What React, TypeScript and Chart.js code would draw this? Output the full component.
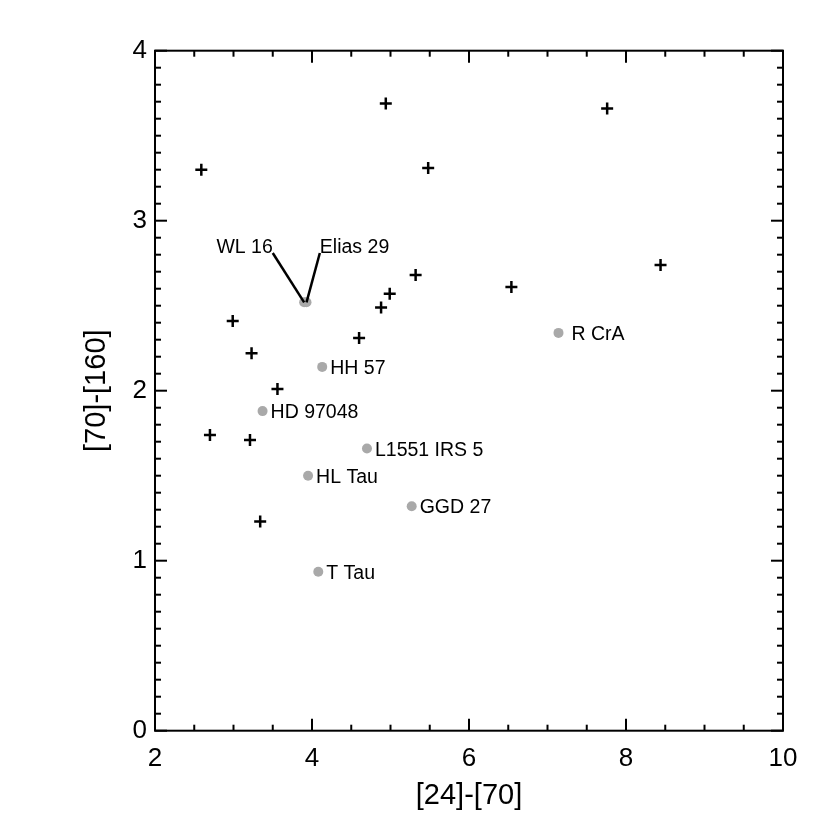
import React, { useEffect, useRef } from 'react';
import { Chart, registerables } from 'chart.js';

Chart.register(...registerables);

// Black crosses (unlabelled sources)
const crossX = [2.59, 4.94, 5.48, 7.76, 8.44, 5.32, 6.54, 4.99, 4.88, 4.60, 2.99, 3.23, 3.56, 2.70, 3.21, 3.34];
const crossY = [3.30, 3.69, 3.31, 3.66, 2.74, 2.68, 2.61, 2.57, 2.49, 2.31, 2.41, 2.22, 2.01, 1.74, 1.71, 1.23];

// Grey labelled sources
const srcNames = ['WL 16', 'Elias 29', 'HH 57', 'HD 97048', 'L1551 IRS 5', 'HL Tau', 'GGD 27', 'T Tau', 'R CrA'];
const srcX = [3.90, 3.93, 4.13, 3.37, 4.70, 3.95, 5.27, 4.08, 7.14];
const srcY = [2.52, 2.52, 2.14, 1.88, 1.66, 1.50, 1.32, 0.935, 2.34];

// Leader-line label anchors (data coordinates) for the two blended sources
const leaderNames = ['WL 16', 'Elias 29'];
const leaderX = [3.50, 4.10];
const leaderY = [2.81, 2.81];

// Axis tick labels
const xTicks = [2, 4, 6, 8, 10];
const yTicks = [0, 1, 2, 3, 4];

const FONT = "'Liberation Sans', Arial, Helvetica, sans-serif";
const LABEL_SIZE = 19.5;

const framePlugin = {
  id: 'frameTicks',
  afterDraw(chart: any) {
    const { ctx, chartArea: a, scales } = chart;
    const xs = scales.x;
    const ys = scales.y;
    ctx.save();
    ctx.strokeStyle = '#000';
    ctx.lineWidth = 2;
    ctx.lineCap = 'butt';
    ctx.strokeRect(a.left, a.top, a.right - a.left, a.bottom - a.top);
    const line = (x1: number, y1: number, x2: number, y2: number) => {
      ctx.beginPath();
      ctx.moveTo(x1, y1);
      ctx.lineTo(x2, y2);
      ctx.stroke();
    };
    // x ticks (major every 2, minor every 0.5), top and bottom, inward
    for (let i = 0; i <= 16; i++) {
      const v = 2 + i * 0.5;
      const px = xs.getPixelForValue(v);
      const len = i % 4 === 0 ? 12 : 6;
      line(px, a.bottom, px, a.bottom - len);
      line(px, a.top, px, a.top + len);
    }
    // y ticks (major every 1, minor every 0.1), left and right, inward
    for (let i = 0; i <= 40; i++) {
      const v = i * 0.1;
      const py = ys.getPixelForValue(v);
      const len = i % 10 === 0 ? 12 : 6;
      line(a.left, py, a.left + len, py);
      line(a.right, py, a.right - len, py);
    }

    // Leader lines and labels for WL 16 / Elias 29
    ctx.lineWidth = 2.5;
    ctx.fillStyle = '#000';
    ctx.font = `${LABEL_SIZE}px ${FONT}`;
    ctx.textBaseline = 'alphabetic';
    for (let i = 0; i < leaderNames.length; i++) {
      const si = srcNames.indexOf(leaderNames[i]);
      const ex = xs.getPixelForValue(leaderX[i]);
      const ey = ys.getPixelForValue(leaderY[i]);
      const sx = xs.getPixelForValue(srcX[si]);
      const sy = ys.getPixelForValue(srcY[si]);
      line(ex, ey, sx, sy);
      ctx.textAlign = i === 0 ? 'right' : 'left';
      ctx.fillText(leaderNames[i], ex, ey);
    }

    // Labels for other sources
    ctx.textAlign = 'left';
    for (let i = 0; i < srcNames.length; i++) {
      if (leaderNames.includes(srcNames[i])) continue;
      const px = xs.getPixelForValue(srcX[i]);
      const py = ys.getPixelForValue(srcY[i]);
      const off = srcNames[i] === 'R CrA' ? 13 : 8;
      ctx.fillText(srcNames[i], px + off, py + 7);
    }
    ctx.restore();
  },
};

export default function App() {
  const ref = useRef<HTMLCanvasElement | null>(null);

  useEffect(() => {
    if (!ref.current) return;
    const chart = new Chart(ref.current, {
      type: 'scatter',
      data: {
        datasets: [
          {
            label: 'sources',
            data: srcX.map((x, i) => ({ x, y: srcY[i] })),
            pointStyle: 'circle',
            pointRadius: 5,
            backgroundColor: '#a9a9a9',
            borderColor: '#a9a9a9',
            borderWidth: 0,
          },
          {
            label: 'others',
            data: crossX.map((x, i) => ({ x, y: crossY[i] })),
            pointStyle: 'cross',
            pointRadius: 6,
            borderColor: '#000',
            borderWidth: 2.5,
          },
        ],
      },
      options: {
        responsive: false,
        animation: false,
        events: [],
        layout: { padding: { top: 50.7, right: 47, left: 0, bottom: 0 } },
        plugins: {
          legend: { display: false },
          tooltip: { enabled: false },
        },
        scales: {
          x: {
            type: 'linear',
            min: 2,
            max: 10,
            afterBuildTicks: (s: any) => {
              s.ticks = xTicks.map((v) => ({ value: v }));
            },
            afterFit: (s: any) => {
              s.height = 99.3;
            },
            grid: { display: false, drawTicks: false },
            border: { display: false },
            ticks: {
              color: '#000',
              font: { family: FONT, size: 26 },
              padding: 13,
              maxRotation: 0,
              autoSkip: false,
            },
            title: {
              display: true,
              text: '[24]-[70]',
              color: '#000',
              font: { family: FONT, size: 29 },
              padding: { top: 0, bottom: 17 },
            },
          },
          y: {
            type: 'linear',
            min: 0,
            max: 4,
            afterBuildTicks: (s: any) => {
              s.ticks = yTicks.map((v) => ({ value: v }));
            },
            afterFit: (s: any) => {
              s.width = 155;
            },
            grid: { display: false, drawTicks: false },
            border: { display: false },
            ticks: {
              color: '#000',
              font: { family: FONT, size: 26 },
              padding: 8,
              autoSkip: false,
            },
            title: {
              display: true,
              text: '[70]-[160]',
              color: '#000',
              font: { family: FONT, size: 29 },
              padding: { top: 80, bottom: 0 },
            },
          },
        },
      },
      plugins: [framePlugin],
    });
    return () => chart.destroy();
  }, []);

  return (
    <div style={{ position: 'absolute', left: 0, top: 0, width: 830, height: 830, background: '#fff' }}>
      <canvas ref={ref} width={830} height={830} style={{ display: 'block' }} />
    </div>
  );
}
